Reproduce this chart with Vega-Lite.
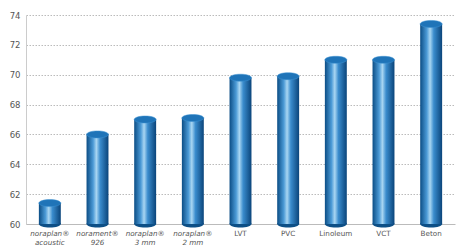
{
  "$schema": "https://vega.github.io/schema/vega-lite/v6.json",
  "autosize": "none",
  "width": 429,
  "height": 209,
  "padding": {"left": 26, "top": 15, "right": 7, "bottom": 24},
  "background": "white",
  "data": {"values": [
    {"product": "noraplan®|acoustic", "value": 61.4, "base": 60},
    {"product": "norament®|926", "value": 66.0, "base": 60},
    {"product": "noraplan®|3 mm", "value": 67.0, "base": 60},
    {"product": "noraplan®|2 mm", "value": 67.1, "base": 60},
    {"product": "LVT", "value": 69.8, "base": 60},
    {"product": "PVC", "value": 69.9, "base": 60},
    {"product": "Linoleum", "value": 71.0, "base": 60},
    {"product": "VCT", "value": 71.0, "base": 60},
    {"product": "Beton", "value": 73.4, "base": 60}
  ]},
  "config": {
    "view": {"stroke": null},
    "font": "DejaVu Sans",
    "axisY": {"values": [60, 62, 64, 66, 68, 70, 72, 74], "labelFontSize": 8.5,
              "labelColor": "#555", "domainColor": "#ccc", "ticks": false, "labelOverlap": false,
              "labelPadding": 6, "gridColor": "#bbb", "gridDash": [1.5, 1.5], "title": null}
  },
  "encoding": {
    "x": {
      "field": "product", "type": "nominal", "sort": null, "title": null,
      "scale": {"paddingInner": 0.54, "paddingOuter": 0.27},
      "axis": {
        "labelAngle": 0, "labelExpr": "split(datum.label, '|')",
        "labelFontSize": 7.2, "labelColor": "#555",
        "labelFontStyle": {"condition": {"test": "indexof(datum.label, '|') >= 0", "value": "italic"}, "value": "normal"},
        "labelPadding": 5, "labelLineHeight": 9,
        "domainColor": "#bbb", "ticks": false, "grid": false
      }
    }
  },
  "layer": [
    {
      "mark": {"type": "point", "filled": true, "opacity": 1, "color": "#0d4f86",
               "shape": "M-1,0 A1,0.32 0 1,0 1,0 A1,0.32 0 1,0 -1,0 Z", "size": 484},
      "encoding": {
        "y": {"field": "base", "type": "quantitative", "title": null,
          "scale": {"domain": [60, 74], "nice": false, "zero": false}}
      }
    },
    {
      "mark": {"type": "bar", "clip": true,
        "color": {"gradient": "linear", "x1": 0, "x2": 1, "y1": 0, "y2": 0,
          "stops": [
            {"offset": 0, "color": "#0b4d85"},
            {"offset": 0.3, "color": "#4b9ad6"},
            {"offset": 0.45, "color": "#a9d6f2"},
            {"offset": 0.62, "color": "#3a8ccd"},
            {"offset": 1, "color": "#0a447a"}
          ]}},
      "encoding": {
        "y": {"field": "value", "type": "quantitative", "title": null,
          "scale": {"domain": [60, 74], "nice": false, "zero": false}}
      }
    },
    {
      "mark": {"type": "point", "filled": true, "opacity": 1, "color": "#1f74b8",
               "stroke": "#3f92d2", "strokeWidth": 0.5,
               "shape": "M-1,0 A1,0.32 0 1,0 1,0 A1,0.32 0 1,0 -1,0 Z", "size": 484},
      "encoding": {
        "y": {"field": "value", "type": "quantitative", "title": null,
          "scale": {"domain": [60, 74], "nice": false, "zero": false}}
      }
    }
  ]
}
